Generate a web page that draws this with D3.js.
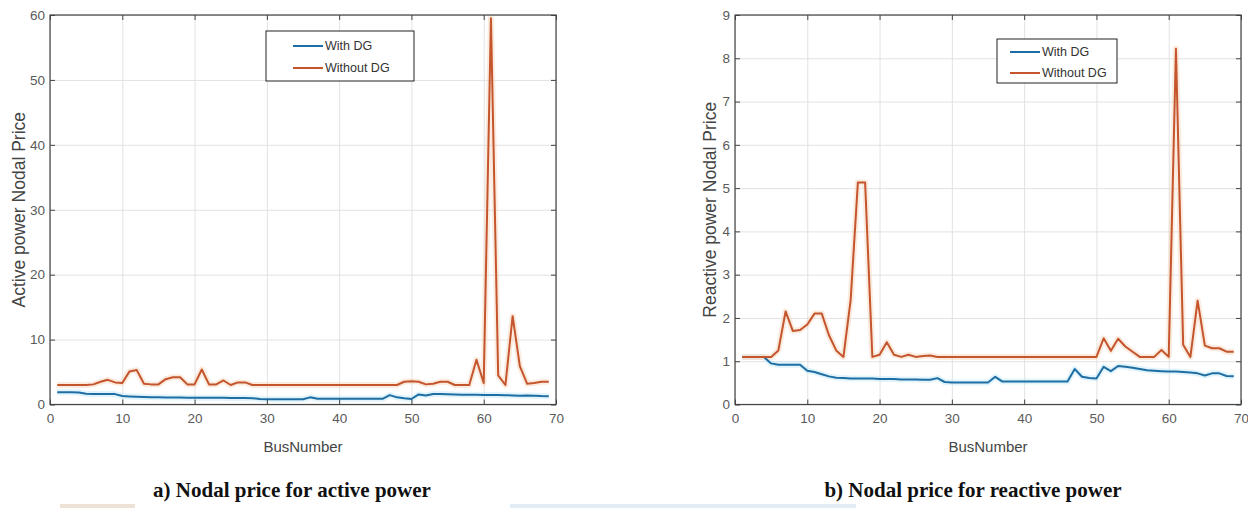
<!DOCTYPE html>
<html>
<head>
<meta charset="utf-8">
<script src="https://cdn.jsdelivr.net/npm/d3@7"></script>
<style>
  body { margin: 0; background: #fff; }
  svg { display: block; }
</style>
</head>
<body>
<svg id="fig" width="1248" height="508"></svg>
<script>
// Bus numbers of the 69-bus distribution network
const busNumbers = [
  1, 2, 3, 4, 5, 6, 7, 8, 9, 10, 11, 12, 13, 14, 15, 16, 17, 18, 19, 20,
  21, 22, 23, 24, 25, 26, 27, 28, 29, 30, 31, 32, 33, 34, 35, 36, 37, 38, 39, 40,
  41, 42, 43, 44, 45, 46, 47, 48, 49, 50, 51, 52, 53, 54, 55, 56, 57, 58, 59, 60,
  61, 62, 63, 64, 65, 66, 67, 68, 69
];

// Active power nodal price
const activeWithDG = [
  1.9, 1.9, 1.9, 1.85, 1.65, 1.62, 1.62, 1.62, 1.6, 1.3,
  1.25, 1.2, 1.15, 1.12, 1.1, 1.08, 1.07, 1.06, 1.05, 1.05,
  1.05, 1.04, 1.03, 1.03, 1.02, 1.02, 1.0, 0.98, 0.85, 0.82,
  0.82, 0.82, 0.82, 0.82, 0.82, 1.1, 0.9, 0.88, 0.88, 0.88,
  0.88, 0.88, 0.88, 0.88, 0.88, 0.88, 1.45, 1.1, 0.95, 0.85,
  1.55, 1.4, 1.62, 1.6, 1.58, 1.55, 1.52, 1.5, 1.5, 1.48,
  1.47, 1.45, 1.42, 1.4, 1.35, 1.38, 1.36, 1.3, 1.28
];
const activeWithoutDG = [
  3.0, 3.0, 3.0, 3.0, 3.0, 3.1, 3.5, 3.8, 3.4, 3.3,
  5.1, 5.3, 3.2, 3.1, 3.1, 3.9, 4.2, 4.2, 3.1, 3.1,
  5.4, 3.1, 3.1, 3.7, 3.0, 3.4, 3.4, 3.0, 3.0, 3.0,
  3.0, 3.0, 3.0, 3.0, 3.0, 3.0, 3.0, 3.0, 3.0, 3.0,
  3.0, 3.0, 3.0, 3.0, 3.0, 3.0, 3.0, 3.0, 3.5, 3.6,
  3.5, 3.1, 3.2, 3.5, 3.5, 3.0, 3.0, 3.0, 6.9, 3.3,
  59.5, 4.5, 3.0, 13.6, 5.9, 3.2, 3.3, 3.5, 3.5
];

// Reactive power nodal price
const reactiveWithDG = [
  1.1, 1.1, 1.1, 1.1, 0.95, 0.92, 0.92, 0.92, 0.92, 0.78,
  0.75, 0.7, 0.65, 0.62, 0.61, 0.6, 0.6, 0.6, 0.6, 0.59,
  0.59, 0.59, 0.58, 0.58, 0.58, 0.57, 0.57, 0.61, 0.52, 0.51,
  0.51, 0.51, 0.51, 0.51, 0.51, 0.64, 0.53, 0.53, 0.53, 0.53,
  0.53, 0.53, 0.53, 0.53, 0.53, 0.53, 0.82, 0.64, 0.61, 0.6,
  0.87, 0.77, 0.89, 0.87, 0.85, 0.82, 0.79, 0.78, 0.77, 0.76,
  0.76, 0.75, 0.74, 0.72, 0.67, 0.72, 0.72, 0.66, 0.65
];
const reactiveWithoutDG = [
  1.1, 1.1, 1.1, 1.1, 1.1, 1.25, 2.15, 1.7, 1.72, 1.85,
  2.1, 2.1, 1.6, 1.25, 1.1, 2.42, 5.13, 5.13, 1.1, 1.15,
  1.44, 1.15, 1.1, 1.15, 1.1, 1.12, 1.13, 1.1, 1.1, 1.1,
  1.1, 1.1, 1.1, 1.1, 1.1, 1.1, 1.1, 1.1, 1.1, 1.1,
  1.1, 1.1, 1.1, 1.1, 1.1, 1.1, 1.1, 1.1, 1.1, 1.1,
  1.53, 1.24, 1.52, 1.34, 1.22, 1.1, 1.1, 1.1, 1.26, 1.1,
  8.22, 1.38, 1.1, 2.4, 1.36, 1.3, 1.3, 1.22, 1.22
];

// Axis ticks and labels
const busTicks = [0, 10, 20, 30, 40, 50, 60, 70];
const activeTicks = [0, 10, 20, 30, 40, 50, 60];
const reactiveTicks = [0, 1, 2, 3, 4, 5, 6, 7, 8, 9];
const seriesNames = ["With DG", "Without DG"];
const seriesColors = ["#1f6ea3", "#c4552c"];
const haloColors = ["#bfe6f7", "#f7d2b8"];
const xAxisTitle = "BusNumber";

const svg = d3.select("#fig");
svg.append("rect").attr("width", 1248).attr("height", 508).attr("fill", "#fff");

// faint strip along the bottom edge of the figure
svg.append("rect").attr("x", 60).attr("y", 504).attr("width", 75).attr("height", 4).attr("fill", "#eee2d6");
svg.append("rect").attr("x", 510).attr("y", 504).attr("width", 346).attr("height", 4).attr("fill", "#e2ecf4");

function drawPanel(cfg) {
  const g = svg.append("g");
  const x = d3.scaleLinear().domain([0, 70]).range([cfg.left, cfg.right]);
  const y = d3.scaleLinear().domain([0, cfg.yTicks[cfg.yTicks.length - 1]]).range([cfg.bottom, cfg.top]);
  const w = cfg.right - cfg.left, h = cfg.bottom - cfg.top;

  // grid
  const gx = g.append("g").attr("transform", `translate(0,${cfg.bottom})`)
    .call(d3.axisBottom(x).tickValues(busTicks).tickSize(-h).tickFormat(""));
  const gy = g.append("g").attr("transform", `translate(${cfg.left},0)`)
    .call(d3.axisLeft(y).tickValues(cfg.yTicks).tickSize(-w).tickFormat(""));
  [gx, gy].forEach(a => {
    a.select(".domain").remove();
    a.selectAll("line").attr("stroke", "#e2e2e2").attr("stroke-width", 1);
  });

  // series: soft halo underneath, then the line itself
  const line = d3.line().x((d, i) => x(busNumbers[i])).y(d => y(d));
  cfg.series.forEach((s, k) => {
    g.append("path").datum(s).attr("d", line).attr("fill", "none")
      .attr("stroke", haloColors[k]).attr("stroke-width", 6).attr("stroke-opacity", 0.45)
      .attr("stroke-linejoin", "round");
  });
  cfg.series.forEach((s, k) => {
    g.append("path").datum(s).attr("d", line).attr("fill", "none")
      .attr("stroke", seriesColors[k]).attr("stroke-width", 2)
      .attr("stroke-linejoin", "round");
  });

  // frame with inward ticks on all sides
  const tickStyle = a => {
    a.select(".domain").remove();
    a.selectAll("line").attr("stroke", "#444");
    a.selectAll("text").attr("fill", "#5a5a5a")
      .style("font-family", "'Liberation Sans', Arial, sans-serif").style("font-size", "13.5px");
  };
  g.append("g").attr("transform", `translate(0,${cfg.bottom})`)
    .call(d3.axisBottom(x).tickValues(busTicks).tickSize(-5).tickPadding(9)).call(tickStyle);
  g.append("g").attr("transform", `translate(0,${cfg.top})`)
    .call(d3.axisTop(x).tickValues(busTicks).tickSize(-5).tickFormat("")).call(tickStyle);
  g.append("g").attr("transform", `translate(${cfg.left},0)`)
    .call(d3.axisLeft(y).tickValues(cfg.yTicks).tickSize(-5).tickPadding(5)).call(tickStyle);
  g.append("g").attr("transform", `translate(${cfg.right},0)`)
    .call(d3.axisRight(y).tickValues(cfg.yTicks).tickSize(-5).tickFormat("")).call(tickStyle);
  g.append("rect").attr("x", cfg.left).attr("y", cfg.top).attr("width", w).attr("height", h)
    .attr("fill", "none").attr("stroke", "#444").attr("stroke-width", 1.2);

  // axis titles
  g.append("text").attr("x", (cfg.left + cfg.right) / 2).attr("y", 452)
    .attr("text-anchor", "middle").attr("fill", "#444")
    .style("font-family", "'Liberation Sans', Arial, sans-serif").style("font-size", "15px")
    .text(xAxisTitle);
  g.append("text").attr("transform", `translate(${cfg.yLabelX},${(cfg.top + cfg.bottom) / 2}) rotate(-90)`)
    .attr("text-anchor", "middle").attr("dy", "0.35em").attr("fill", "#444")
    .style("font-family", "'Liberation Sans', Arial, sans-serif").style("font-size", "17.5px")
    .text(cfg.yLabel);

  // legend
  const L = cfg.legend;
  const lg = g.append("g");
  lg.append("rect").attr("x", L.x).attr("y", L.y).attr("width", L.w).attr("height", L.h)
    .attr("fill", "#fff").attr("stroke", "#222").attr("stroke-width", 1);
  seriesNames.forEach((name, k) => {
    const yy = L.y + L.rows[k];
    lg.append("line").attr("x1", L.x + L.lineStart).attr("x2", L.x + L.lineStart + 30)
      .attr("y1", yy).attr("y2", yy).attr("stroke", seriesColors[k]).attr("stroke-width", 2);
    lg.append("text").attr("x", L.x + L.lineStart + 32).attr("y", yy).attr("dy", "0.35em")
      .attr("fill", "#333").style("font-family", "'Liberation Sans', Arial, sans-serif")
      .style("font-size", "12.5px").text(name);
  });

  // caption
  g.append("text").attr("x", cfg.captionX).attr("y", 497).attr("text-anchor", "middle")
    .attr("fill", "#111").style("font-family", "'Liberation Serif', 'Times New Roman', serif")
    .style("font-weight", "bold").style("font-size", "21px").text(cfg.caption);
}

drawPanel({
  left: 50, right: 556, top: 15, bottom: 404.5,
  yTicks: activeTicks,
  series: [activeWithDG, activeWithoutDG],
  yLabel: "Active power Nodal Price", yLabelX: 19,
  legend: { x: 266, y: 31, w: 148, h: 50, lineStart: 27, rows: [15, 37] },
  caption: "a) Nodal price for active power", captionX: 292
});

drawPanel({
  left: 735, right: 1241, top: 15, bottom: 404.5,
  yTicks: reactiveTicks,
  series: [reactiveWithDG, reactiveWithoutDG],
  yLabel: "Reactive power Nodal Price", yLabelX: 710,
  legend: { x: 997, y: 39, w: 120, h: 44, lineStart: 13, rows: [13, 34] },
  caption: "b) Nodal price for reactive power", captionX: 973
});
</script>
</body>
</html>
